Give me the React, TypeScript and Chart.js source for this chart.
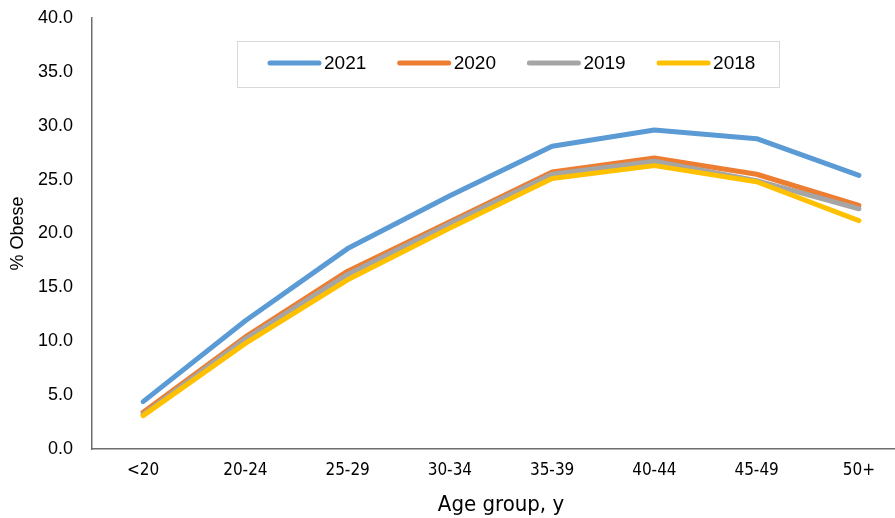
import React, { useEffect, useRef } from "react";
import { Chart, registerables } from "chart.js";

Chart.register(...registerables);

const categories = ["<20", "20-24", "25-29", "30-34", "35-39", "40-44", "45-49", "50+"];
const seriesNames = ["2021", "2020", "2019", "2018"];
const values2021 = [4.4, 11.9, 18.6, 23.5, 28.1, 29.6, 28.8, 25.4];
const values2020 = [3.4, 10.4, 16.5, 21.1, 25.7, 27.0, 25.5, 22.6];
const values2019 = [3.2, 10.2, 16.2, 20.9, 25.5, 26.7, 24.9, 22.3];
const values2018 = [3.1, 9.8, 15.7, 20.5, 25.1, 26.3, 24.8, 21.2];
const yTicks = [0, 5, 10, 15, 20, 25, 30, 35, 40];

const colors = ["#5B9BD5", "#ED7D31", "#A5A5A5", "#FFC000"];
const allValues = [values2021, values2020, values2019, values2018];

const narrowFont = "'DejaVu Sans Condensed', 'Liberation Sans Narrow', 'Arial Narrow', sans-serif";

const boxLegend = {
  id: "boxLegend",
  afterDraw(chart: any) {
    const ctx = chart.ctx;
    ctx.save();
    ctx.strokeStyle = "#d9d9d9";
    ctx.lineWidth = 1;
    ctx.strokeRect(237.5, 41.5, 542, 46);
    const startX = 268;
    const step = 129.7;
    const y = 63;
    chart.data.datasets.forEach((ds: any, i: number) => {
      const x = startX + i * step;
      ctx.beginPath();
      ctx.strokeStyle = ds.borderColor;
      ctx.lineWidth = 5;
      ctx.lineCap = "round";
      ctx.moveTo(x + 2, y);
      ctx.lineTo(x + 51, y);
      ctx.stroke();
      ctx.fillStyle = "#000";
      ctx.font = "19px 'Liberation Sans', Arial, sans-serif";
      ctx.textAlign = "left";
      ctx.textBaseline = "middle";
      ctx.fillText(ds.label, x + 56, y + 1);
    });
    ctx.restore();
  },
};

export default function App() {
  const ref = useRef<HTMLCanvasElement>(null);
  useEffect(() => {
    document.documentElement.style.overflow = "hidden";
    document.body.style.overflow = "hidden";
    const chart = new Chart(ref.current!, {
      type: "line",
      data: {
        labels: categories,
        datasets: seriesNames.map((name, i) => ({
          label: name,
          data: allValues[i],
          borderColor: colors[i],
          backgroundColor: colors[i],
          borderWidth: 5,
          pointRadius: 0,
          tension: 0,
          borderCapStyle: "round",
          borderJoinStyle: "round",
          order: 3 - i,
        })),
      },
      options: {
        animation: false,
        responsive: false,
        maintainAspectRatio: false,
        layout: { padding: { left: 3, top: 18, right: 0, bottom: 0 } },
        plugins: {
          legend: { display: false },
          tooltip: { enabled: false },
        },
        scales: {
          x: {
            type: "category",
            offset: true,
            grid: { display: false, drawTicks: false },
            border: { display: true, color: "#6e6e6e", width: 1.5 },
            ticks: {
              color: "#000",
              padding: 11,
              maxRotation: 0,
              font: { family: narrowFont, size: 17 },
            },
            title: {
              display: true,
              text: "Age group, y",
              color: "#000",
              padding: { top: 11, bottom: 0 },
              font: { family: narrowFont, size: 22 },
            },
            afterFit: (s: any) => {
              s.height = 69;
              s.paddingLeft = 0;
              s.paddingRight = 0;
            },
          },
          y: {
            min: 0,
            max: 40,
            afterBuildTicks: (s: any) => {
              s.ticks = yTicks.map((v) => ({ value: v }));
            },
            grid: { display: false, drawTicks: false },
            border: { display: true, color: "#6e6e6e", width: 1.5 },
            ticks: {
              color: "#000",
              padding: 19,
              callback: (v: any) => Number(v).toFixed(1),
              font: { family: "'Liberation Sans', Arial, sans-serif", size: 18 },
            },
            title: {
              display: true,
              text: "% Obese",
              color: "#000",
              padding: { top: 4, bottom: 0 },
              font: { family: "'Liberation Sans', Arial, sans-serif", size: 18 },
            },
            afterFit: (s: any) => {
              s.width = 89;
              s.paddingTop = 0;
              s.paddingBottom = 0;
            },
          },
        },
      },
      plugins: [boxLegend],
    });
    return () => chart.destroy();
  }, []);
  return (
    <div style={{ position: "absolute", left: 0, top: 0, width: 910, height: 518 }}>
      <canvas ref={ref} width={910} height={518} style={{ width: 910, height: 518, display: "block" }} />
    </div>
  );
}
